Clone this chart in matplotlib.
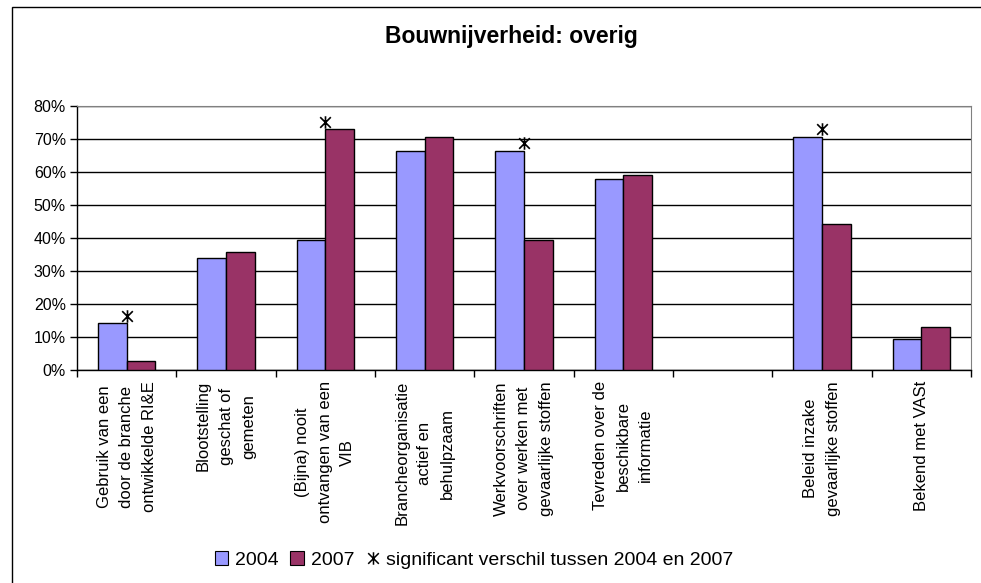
import numpy as np
import matplotlib
matplotlib.use('Agg')
import matplotlib.pyplot as plt
from matplotlib.patches import Rectangle
from matplotlib.path import Path
from matplotlib.lines import Line2D

# ==============================
# DATA
# ==============================

categories = [
    "Gebruik van een\ndoor de branche\nontwikkelde RI&E",
    "Blootstelling\ngeschat of\ngemeten",
    "(Bijna) nooit\nontvangen van een\nVIB",
    "Brancheorganisatie\nactief en\nbehulpzaam",
    "Werkvoorschriften\nover werken met\ngevaarlijke stoffen",
    "Tevreden over de\nbeschikbare\ninformatie",
    "",
    "Beleid inzake\ngevaarlijke stoffen",
    "Bekend met VASt",
]
values_2004 = [14.1, 33.8, 39.5, 66.3, 66.3, 57.9, np.nan, 70.5, 9.4]
values_2007 = [2.8, 35.7, 73.0, 70.5, 39.5, 58.9, np.nan, 44.2, 13.1]
# position of the significance marker (nan = not significant)
significant = [16.4, np.nan, 75.2, np.nan, 68.7, np.nan, np.nan, 73.0, np.nan]

yticks = [0, 10, 20, 30, 40, 50, 60, 70, 80]

# ==============================
# STYLE
# ==============================

plt.rcParams['font.family'] = ['Liberation Sans', 'DejaVu Sans']
COLOR_2004 = "#9999FF"
COLOR_2007 = "#993366"
BAR_W = 0.29

# asterisk: X with a vertical stroke
star = Path(
    [(0, -1), (0, 1), (-0.85, -0.85), (0.85, 0.85), (-0.85, 0.85), (0.85, -0.85)],
    [Path.MOVETO, Path.LINETO, Path.MOVETO, Path.LINETO, Path.MOVETO, Path.LINETO],
)

fig = plt.figure(figsize=(9.81, 5.83), dpi=100)
W, H = 981, 583

# outer chart border (only left/top visible in the picture)
fig.patches.append(Rectangle((12 / W, -0.1), 1.2, 1.1 - 7 / H, transform=fig.transFigure,
                             fill=False, edgecolor="black", linewidth=1.0, clip_on=False))

ax = fig.add_axes([77 / W, 1 - 370 / H, (971 - 77) / W, (370 - 105.7) / H])

x = np.arange(len(categories))
ax.bar(x - BAR_W / 2, values_2004, BAR_W, color=COLOR_2004, edgecolor="black", linewidth=1.0, zorder=3)
ax.bar(x + BAR_W / 2, values_2007, BAR_W, color=COLOR_2007, edgecolor="black", linewidth=1.0, zorder=3)
ax.plot(x, significant, linestyle="none", marker=star, markersize=9, markeredgewidth=1.2,
        color="black", zorder=4, clip_on=False)

ax.set_xlim(-0.5, len(categories) - 0.5)
ax.set_ylim(0, 80)
ax.set_yticks(yticks)
ax.set_yticklabels([f"{v}%" for v in yticks], fontsize=11.5)
ax.yaxis.grid(True, color="black", linewidth=1.0, zorder=0)
ax.set_axisbelow(True)

# category boundaries as major ticks, labels on minor ticks at centres
ax.set_xticks(np.append(x - 0.5, len(categories) - 0.5))
ax.set_xticklabels([])
ax.set_xticks(x, minor=True)
ax.set_xticklabels(categories, minor=True, rotation=90, fontsize=12,
                   ha="center", va="top", multialignment="center", linespacing=1.62)
ax.tick_params(axis="x", which="minor", length=0, pad=8)
ax.tick_params(axis="x", which="major", direction="out", length=5, width=1)
ax.tick_params(axis="y", direction="out", length=5, width=1, pad=3)

for side in ["top", "right"]:
    ax.spines[side].set_color("#808080")
for side in ["left", "bottom"]:
    ax.spines[side].set_color("black")
    ax.spines[side].set_linewidth(1.0)

fig.text(511 / W, 1 - 36 / H, "Bouwnijverheid: overig", ha="center", va="center",
         fontsize=16.5, fontweight="bold")

handles = [
    Rectangle((0, 0), 1, 1, facecolor=COLOR_2004, edgecolor="black", linewidth=0.8),
    Rectangle((0, 0), 1, 1, facecolor=COLOR_2007, edgecolor="black", linewidth=0.8),
    Line2D([], [], linestyle="none", marker=star, markersize=9, markeredgewidth=1.1, color="black"),
]
fig.legend(handles, ["2004", "2007", "significant verschil tussen 2004 en 2007"],
           loc="center", bbox_to_anchor=(474 / W, 1 - 560 / H), ncol=3, frameon=False,
           fontsize=14, handlelength=0.7, handleheight=0.7, handletextpad=0.35,
           columnspacing=0.6, borderpad=0)

plt.savefig("out.png", dpi=100)
